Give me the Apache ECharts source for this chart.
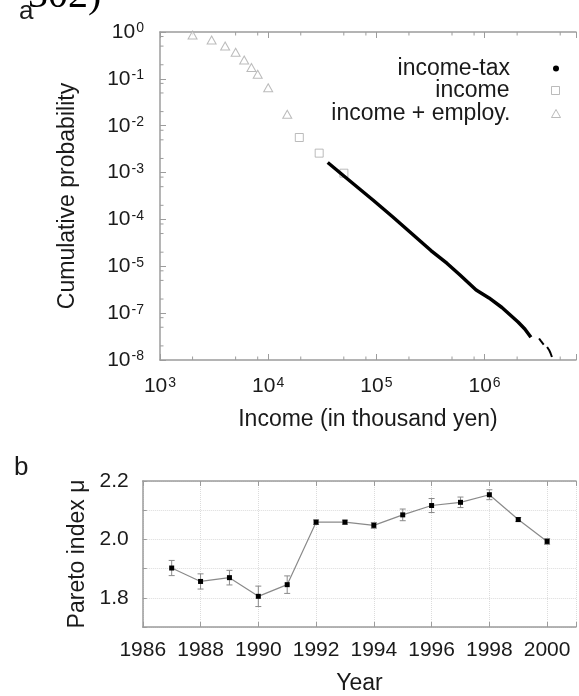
<!DOCTYPE html>
<html><head><meta charset="utf-8">
<script src="https://cdn.jsdelivr.net/npm/echarts@6/dist/echarts.min.js"></script>
<style>html,body{margin:0;padding:0;background:#fff}#c{width:579px;height:696px}</style>
</head><body><div id="c"></div>
<script>
// ---------- Panel a: cumulative probability ----------
const employIncome = [2000, 3000, 4000, 5000, 6000, 7000, 8000, 10000, 15000];
const employProb = [0.863, 0.675, 0.503, 0.369, 0.253, 0.175, 0.125, 0.0648, 0.0175];
const incomeIncome = [19400, 29600, 50100];
const incomeProb = [0.0056, 0.0026, 0.00097];
const taxIncome = [35500, 50100, 92900, 140300, 211700, 319500, 450800, 592900, 835900, 1099000, 1446000, 2039000, 2355000, 2681000];
const taxProb = [1.64e-3, 8.45e-4, 2.60e-4, 1.156e-4, 5.01e-5, 2.17e-5, 1.148e-5, 6.52e-6, 3.12e-6, 2.11e-6, 1.32e-6, 6.48e-7, 4.59e-7, 3.05e-7];
const taxTail1Income = [3190000, 3311000, 3520000];
const taxTail1Prob = [2.88e-7, 2.55e-7, 2.14e-7];
const taxTail2Income = [3784000, 3945000, 4066000, 4194000];
const taxTail2Prob = [1.90e-7, 1.64e-7, 1.41e-7, 1.16e-7];
const xTickExponents = ['3', '4', '5', '6'];
const yTickExponents = ['0', '-1', '-2', '-3', '-4', '-5', '-7', '-8'];
const minorMultipliers = [2, 5, 8];

// ---------- Panel b: Pareto index ----------
const years = [1987, 1988, 1989, 1990, 1991, 1992, 1993, 1994, 1995, 1996, 1997, 1998, 1999, 2000];
const paretoIndex = [1.902, 1.856, 1.869, 1.805, 1.845, 2.059, 2.059, 2.048, 2.084, 2.116, 2.127, 2.153, 2.068, 1.993];
const paretoError = [0.026, 0.026, 0.025, 0.035, 0.03, 0.008, 0.007, 0.01, 0.02, 0.024, 0.018, 0.017, 0.007, 0.01];

const FONT = '"Liberation Sans", Arial, Helvetica, sans-serif';
const TXT = '#1a1a1a';
const AX = '#9c9c9c';
const pair = (xs, ys) => xs.map((x, i) => [x, ys[i]]);

const X_MIN = 1000, X_MAX = 7e6, Y_MIN = 1e-7, Y_MAX = 1;
const xMinor = [], yMinor = [];
for (let d = 1000; d < X_MAX; d *= 10) minorMultipliers.forEach(m => { if (m * d < X_MAX) xMinor.push(m * d); });
for (let e = -7; e < 0; e++) minorMultipliers.forEach(m => { const v = m * Math.pow(10, e); if (v < Y_MAX) yMinor.push(v); });

const rich = {
  b: { fontSize: 21, fontFamily: FONT, color: TXT, lineHeight: 21, padding: [4, 0, 0, 0], verticalAlign: 'bottom' },
  s: { fontSize: 14, fontFamily: FONT, color: TXT, lineHeight: 13, verticalAlign: 'top', padding: [0, 0, 0, 1] }
};
function isDecade(v) { const e = Math.log10(v); return Math.abs(e - Math.round(e)) < 1e-6; }

const axisLine = { show: true, lineStyle: { color: AX, width: 1.5 } };
const tickIn = (len) => ({ show: true, inside: true, length: len, lineStyle: { color: AX, width: 1 } });
const tickStyle = { stroke: AX, lineWidth: 1 };

const option = {
  animation: false,
  backgroundColor: '#fff',
  textStyle: { fontFamily: FONT },
  grid: [
    { left: 160, top: 32, width: 430, height: 328, containLabel: false },
    { left: 142.8, top: 481, width: 447.2, height: 148, containLabel: false }
  ],
  graphic: [
    { type: 'text', left: 28, top: -24, style: { text: '302)', font: '40px "Liberation Serif", "Times New Roman", serif', fill: '#000' } },
    { type: 'text', left: 19, top: -1, style: { text: 'a', font: '26px ' + FONT, fill: TXT } },
    { type: 'text', left: 14, top: 455, style: { text: 'b', font: '26px ' + FONT, fill: TXT } }
  ],
  legend: [
    { data: [{ name: 'income-tax', icon: 'circle' }], right: 20, top: 57, align: 'right', orient: 'vertical', padding: 0,
      itemWidth: 6, itemHeight: 6, selectedMode: false, itemStyle: { color: '#000', borderWidth: 0 },
      textStyle: { fontSize: 23, color: TXT, fontFamily: FONT, padding: [0, 38, 0, 0] } },
    { data: [{ name: 'income', icon: 'rect' }], right: 19, top: 79, align: 'right', orient: 'vertical', padding: 0,
      itemWidth: 8, itemHeight: 8, selectedMode: false, itemStyle: { color: '#fff', borderColor: '#aaa', borderWidth: 1 },
      textStyle: { fontSize: 23, color: TXT, fontFamily: FONT, padding: [0, 37, 0, 0] } },
    { data: [{ name: 'income + employ.', icon: 'triangle' }], right: 18, top: 102, align: 'right', orient: 'vertical', padding: 0,
      itemWidth: 9, itemHeight: 8, selectedMode: false, itemStyle: { color: '#fff', borderColor: '#aaa', borderWidth: 1 },
      textStyle: { fontSize: 23, color: TXT, fontFamily: FONT, padding: [0, 36, 0, 0] } }
  ],
  xAxis: [
    { gridIndex: 0, type: 'log', logBase: 10, min: X_MIN, max: X_MAX, position: 'bottom',
      name: 'Income (in thousand yen)', nameLocation: 'middle', nameGap: 48,
      nameTextStyle: { fontSize: 23, color: TXT, fontFamily: FONT },
      axisLine, axisTick: tickIn(6), splitLine: { show: false },
      axisLabel: { margin: 16, formatter: v => { if (!isDecade(v)) return ''; const i = Math.round(Math.log10(v)) - 3; return xTickExponents[i] ? '{b|10}{s|' + xTickExponents[i] + '}' : ''; }, rich } },
    { gridIndex: 0, type: 'log', logBase: 10, min: X_MIN, max: X_MAX, position: 'top',
      axisLine, axisTick: tickIn(6), splitLine: { show: false }, axisLabel: { show: false } },
    { gridIndex: 1, type: 'value', min: 1986, max: 2001, interval: 2, position: 'bottom',
      name: 'Year', nameLocation: 'middle', nameGap: 45,
      nameTextStyle: { fontSize: 23, color: TXT, fontFamily: FONT },
      axisLine, axisTick: tickIn(5),
      splitLine: { show: true, lineStyle: { color: '#dcdcdc', type: 'dotted', width: 1 } },
      axisLabel: { margin: 13, fontSize: 21, color: TXT, fontFamily: FONT, formatter: v => (v % 2 === 0 ? String(v) : '') } },
    { gridIndex: 1, type: 'value', min: 1986, max: 2001, interval: 2, position: 'top',
      axisLine, axisTick: tickIn(5), splitLine: { show: false }, axisLabel: { show: false } }
  ],
  yAxis: [
    { gridIndex: 0, type: 'log', logBase: 10, min: Y_MIN, max: Y_MAX,
      name: 'Cumulative probability', nameLocation: 'middle', nameGap: 81,
      nameTextStyle: { fontSize: 23, color: TXT, fontFamily: FONT },
      axisLine, axisTick: tickIn(6), splitLine: { show: false },
      axisLabel: { margin: 16, formatter: v => { if (!isDecade(v)) return ''; const i = -Math.round(Math.log10(v)); return yTickExponents[i] !== undefined ? '{b|10}{s|' + yTickExponents[i] + '}' : ''; }, rich } },
    { gridIndex: 1, type: 'value', min: 1.7, max: 2.2, interval: 0.1,
      name: 'Pareto index \u03bc', nameLocation: 'middle', nameGap: 54,
      nameTextStyle: { fontSize: 23, color: TXT, fontFamily: FONT },
      axisLine, axisTick: tickIn(4),
      splitLine: { show: true, lineStyle: { color: '#dcdcdc', type: 'dotted', width: 1 } },
      axisLabel: { margin: 14, fontSize: 21, color: TXT, fontFamily: FONT, formatter: v => { const k = Math.round(v * 10); return k % 2 === 0 ? (k / 10).toFixed(1) : ''; } } }
  ],
  series: [
    { name: 'xminor', type: 'custom', xAxisIndex: 0, yAxisIndex: 0, silent: true, z: 1,
      data: xMinor.map(v => [v, Y_MIN]), encode: { x: 0, y: 1 },
      renderItem: (params, api) => {
        const b = api.coord([api.value(0), Y_MIN]);
        const t = api.coord([api.value(0), Y_MAX]);
        return { type: 'group', children: [
          { type: 'line', shape: { x1: b[0], y1: b[1], x2: b[0], y2: b[1] - 3.5 }, style: tickStyle },
          { type: 'line', shape: { x1: t[0], y1: t[1], x2: t[0], y2: t[1] + 3.5 }, style: tickStyle }
        ] };
      } },
    { name: 'yminor', type: 'custom', xAxisIndex: 0, yAxisIndex: 0, silent: true, z: 1,
      data: yMinor.map(v => [X_MIN, v]), encode: { x: 0, y: 1 },
      renderItem: (params, api) => {
        const p = api.coord([X_MIN, api.value(1)]);
        return { type: 'line', shape: { x1: p[0], y1: p[1], x2: p[0] + 3.5, y2: p[1] }, style: tickStyle };
      } },
    { name: 'income + employ.', type: 'scatter', xAxisIndex: 0, yAxisIndex: 0, data: pair(employIncome, employProb),
      symbol: 'triangle', symbolSize: [9, 8], itemStyle: { color: '#fff', borderColor: '#aaa', borderWidth: 1 }, z: 2 },
    { name: 'income', type: 'scatter', xAxisIndex: 0, yAxisIndex: 0, data: pair(incomeIncome, incomeProb),
      symbol: 'rect', symbolSize: 8, itemStyle: { color: '#fff', borderColor: '#aaa', borderWidth: 1 }, z: 2 },
    { name: 'income-tax', type: 'line', xAxisIndex: 0, yAxisIndex: 0, data: pair(taxIncome, taxProb),
      showSymbol: false, symbol: 'circle', lineStyle: { color: '#000', width: 3.5 }, itemStyle: { color: '#000' }, z: 3 },
    { name: 'income-tax', type: 'line', xAxisIndex: 0, yAxisIndex: 0, data: pair(taxTail1Income, taxTail1Prob),
      showSymbol: false, symbol: 'circle', lineStyle: { color: '#000', width: 2 }, itemStyle: { color: '#000' }, z: 3 },
    { name: 'income-tax', type: 'line', xAxisIndex: 0, yAxisIndex: 0, data: pair(taxTail2Income, taxTail2Prob),
      showSymbol: false, symbol: 'circle', lineStyle: { color: '#000', width: 2 }, itemStyle: { color: '#000' }, z: 3 },
    { name: 'error', type: 'custom', xAxisIndex: 2, yAxisIndex: 1,
      data: years.map((y, i) => [y, paretoIndex[i] - paretoError[i], paretoIndex[i] + paretoError[i]]),
      encode: { x: 0, y: [1, 2] }, z: 2,
      renderItem: (params, api) => {
        const x = api.value(0);
        const lo = api.coord([x, api.value(1)]);
        const hi = api.coord([x, api.value(2)]);
        const w = 3, st = { stroke: '#8a8a8a', lineWidth: 1 };
        return { type: 'group', children: [
          { type: 'line', shape: { x1: lo[0], y1: lo[1], x2: hi[0], y2: hi[1] }, style: st },
          { type: 'line', shape: { x1: lo[0] - w, y1: lo[1], x2: lo[0] + w, y2: lo[1] }, style: st },
          { type: 'line', shape: { x1: hi[0] - w, y1: hi[1], x2: hi[0] + w, y2: hi[1] }, style: st }
        ] };
      } },
    { name: 'pareto', type: 'line', xAxisIndex: 2, yAxisIndex: 1, data: pair(years, paretoIndex),
      symbol: 'rect', symbolSize: 5, showSymbol: true, lineStyle: { color: '#8a8a8a', width: 1.2 }, itemStyle: { color: '#000' }, z: 3 }
  ]
};
const chart = echarts.init(document.getElementById('c'));
chart.setOption(option);
</script></body></html>
